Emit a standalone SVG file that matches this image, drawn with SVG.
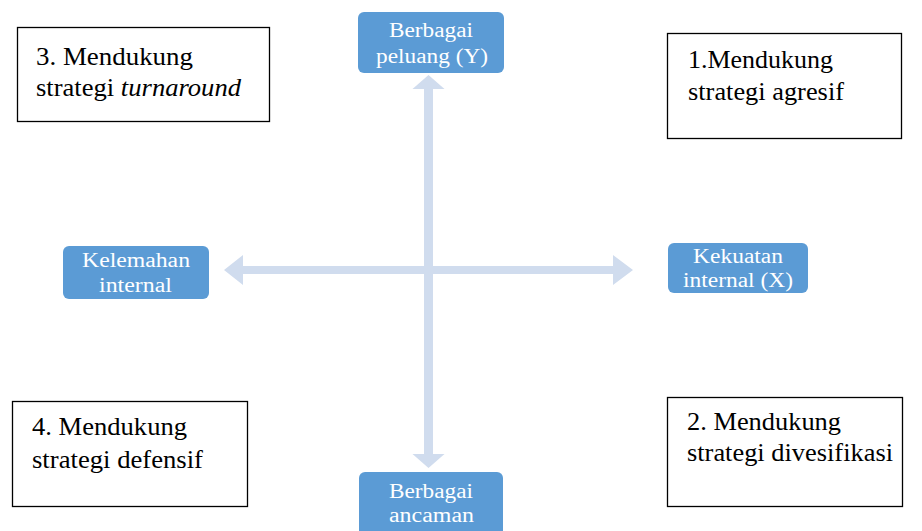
<svg xmlns="http://www.w3.org/2000/svg" width="922" height="531" viewBox="0 0 922 531">
<style>
.box{fill:#fff;stroke:#000;stroke-width:1.3}
.bt{font-family:'Liberation Serif','DejaVu Serif','Times New Roman',serif;font-size:25px;fill:#000}
.nd{fill:#5B9BD5}
.nt{font-family:'Liberation Serif','DejaVu Serif','Times New Roman',serif;font-size:20.5px;fill:#fff}
.ax{fill:#D0DCEE}
</style>
<rect width="922" height="531" fill="#fff"/>
<g id="connectors">
<path class="ax" d="M428.5,75 L444.5,89 L433,89 L433,454 L444.5,454 L428.5,468 L412.5,454 L424,454 L424,89 L412.5,89 Z"/>
<path class="ax" d="M224,270 L243,255 L243,266 L613,266 L613,255 L633,270 L613,285 L613,274 L243,274 L243,285 Z"/>
</g>
<g id="box3">
<rect class="box" x="17.5" y="27.5" width="252" height="94"/>
<text class="bt" x="36" y="65" textLength="157" lengthAdjust="spacingAndGlyphs">3. Mendukung</text>
<text class="bt" x="36" y="96" textLength="205" lengthAdjust="spacingAndGlyphs">strategi <tspan font-style="italic">turnaround</tspan></text>
</g>
<g id="box1">
<rect class="box" x="667.5" y="33.5" width="234" height="105"/>
<text class="bt" x="688" y="68" textLength="145" lengthAdjust="spacingAndGlyphs">1.Mendukung</text>
<text class="bt" x="688" y="100" textLength="156" lengthAdjust="spacingAndGlyphs">strategi agresif</text>
</g>
<g id="box4">
<rect class="box" x="12.5" y="401.5" width="235" height="105"/>
<text class="bt" x="32" y="435" textLength="155" lengthAdjust="spacingAndGlyphs">4. Mendukung</text>
<text class="bt" x="32" y="468" textLength="171" lengthAdjust="spacingAndGlyphs">strategi defensif</text>
</g>
<g id="box2">
<rect class="box" x="667.5" y="397.5" width="235" height="109"/>
<text class="bt" x="687" y="430" textLength="154" lengthAdjust="spacingAndGlyphs">2. Mendukung</text>
<text class="bt" x="687" y="461" textLength="206" lengthAdjust="spacingAndGlyphs">strategi divesifikasi</text>
</g>
<g id="peluang">
<rect class="nd" x="358" y="12" width="146" height="61" rx="6"/>
<text class="nt" x="389" y="37" textLength="84" lengthAdjust="spacingAndGlyphs">Berbagai</text>
<text class="nt" x="376" y="63" textLength="112" lengthAdjust="spacingAndGlyphs">peluang (Y)</text>
</g>
<g id="ancaman">
<rect class="nd" x="359" y="472" width="144" height="70" rx="6"/>
<text class="nt" x="389" y="498" textLength="84" lengthAdjust="spacingAndGlyphs">Berbagai</text>
<text class="nt" x="389" y="522" textLength="85" lengthAdjust="spacingAndGlyphs">ancaman</text>
</g>
<g id="kelemahan">
<rect class="nd" x="63" y="246" width="146" height="53" rx="6"/>
<text class="nt" x="82" y="267" textLength="108" lengthAdjust="spacingAndGlyphs">Kelemahan</text>
<text class="nt" x="99" y="292" textLength="73" lengthAdjust="spacingAndGlyphs">internal</text>
</g>
<g id="kekuatan">
<rect class="nd" x="668" y="243" width="140" height="50" rx="6"/>
<text class="nt" x="693" y="263" textLength="90" lengthAdjust="spacingAndGlyphs">Kekuatan</text>
<text class="nt" x="683" y="287" textLength="110" lengthAdjust="spacingAndGlyphs">internal (X)</text>
</g>
</svg>
